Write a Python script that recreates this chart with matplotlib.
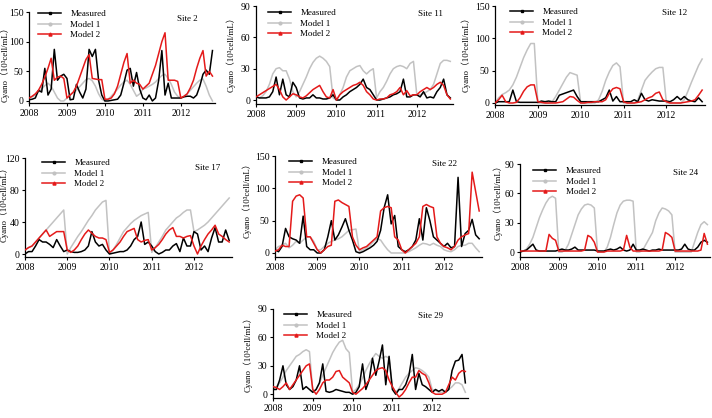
import numpy as np
import matplotlib.pyplot as plt
from matplotlib.lines import Line2D

plt.rcParams["font.family"] = ["Liberation Serif", "Noto Sans CJK SC"]

W, H = 712, 418

# monthly values, Jan 2008 .. Nov 2012 (59 months), 10^3 cell/mL
months = 2008 + np.arange(59) / 12
year_ticks = [2008, 2009, 2010, 2011, 2012]

s2_meas = [2, 3, 5, 18, 15, 55, 10, 20, 87, 35, 42, 45,
           38, 2, 3, 28, 15, 5, 20, 87, 75, 87, 35, 10,
           0, 0, 1, 2, 3, 10, 30, 52, 55, 25, 48, 20,
           5, 2, 10, 0, 5, 35, 85, 10, 30, 5, 5, 5,
           5, 7, 8, 8, 5, 10, 25, 45, 52, 45, 85]
s2_m1 = [5, 7, 10, 15, 20, 26, 30, 25, 15, 5, 0, 0,
         5, 10, 14, 18, 24, 30, 36, 38, 34, 25, 12, 3,
         0, 3, 8, 14, 20, 27, 32, 35, 28, 18, 8, 12,
         20, 22, 25, 28, 32, 38, 43, 45, 38, 28, 15, 8,
         5, 8, 12, 18, 24, 30, 35, 37, 25, 10, 0]
s2_m2 = [5, 8, 12, 18, 28, 40, 55, 72, 35, 40, 42, 38,
         5, 10, 15, 25, 40, 55, 70, 78, 38, 37, 36, 36,
         3, 3, 5, 12, 25, 45, 65, 80, 30, 35, 30, 28,
         20, 25, 30, 45, 60, 80, 100, 115, 35, 35, 35, 33,
         5, 8, 12, 22, 35, 55, 72, 85, 42, 50, 42]

s11_meas = [3, 2, 2, 2, 3, 8, 22, 5, 20, 5, 3, 17,
            12, 2, 1, 2, 2, 5, 2, 2, 1, 1, 2, 5,
            0, 0, 3, 5, 8, 10, 12, 15, 20, 12, 10, 5,
            0, 0, 1, 2, 3, 5, 6, 8, 20, 3, 3, 5,
            5, 3, 8, 2, 3, 2, 8, 12, 20, 5, 2]
s11_m1 = [3, 2, 4, 8, 15, 25, 30, 31, 28, 28, 20, 8,
          3, 8, 15, 22, 30, 36, 40, 42, 40, 37, 32, 2,
          0, 5, 12, 22, 28, 30, 32, 33, 28, 25, 28, 30,
          2, 8, 12, 18, 25, 30, 32, 33, 32, 30, 35, 37,
          5, 5, 6, 8, 10, 15, 25, 35, 38, 38, 37]
s11_m2 = [3, 5, 7, 9, 11, 13, 15, 10, 3, 0, 3, 6,
          5, 3, 2, 4, 7, 10, 12, 14, 8, 3, 2, 10,
          0, 5, 8, 10, 12, 14, 15, 17, 14, 8, 5, 1,
          0, 1, 1, 2, 5, 6, 8, 12, 5, 9, 4, 5,
          5, 8, 10, 12, 10, 12, 15, 17, 14, 5, 1]

s12_meas = [0, 2, 2, 2, 2, 20, 2, 1, 1, 1, 1, 1,
            1, 3, 2, 3, 2, 2, 12, 14, 16, 18, 20, 10,
            2, 2, 2, 2, 2, 2, 5, 8, 20, 3, 10, 2,
            2, 2, 2, 5, 2, 15, 5, 3, 5, 4, 3, 3,
            3, 2, 5, 10, 5, 10, 5, 3, 2, 8, 2]
s12_m1 = [0, 8, 13, 16, 20, 28, 40, 55, 70, 82, 92, 92,
          0, 0, 0, 0, 2, 10, 20, 30, 40, 47, 45, 43,
          0, 0, 0, 0, 0, 5, 18, 35, 48, 58, 62, 56,
          0, 0, 0, 0, 5, 20, 35, 42, 48, 53, 55, 55,
          0, 0, 0, 0, 0, 5, 18, 32, 45, 58, 68]
s12_m2 = [0, 5, 12, 2, 0, 0, 1, 8, 18, 25, 28, 28,
          2, 1, 0, 0, 0, 0, 1, 2, 6, 10, 9, 4,
          0, 0, 1, 1, 2, 2, 2, 5, 15, 22, 24, 22,
          2, 0, 0, 0, 1, 2, 5, 8, 10, 15, 17, 5,
          2, 0, 0, 0, 0, 1, 2, 3, 5, 12, 20]

s17_meas = [0, 3, 3, 10, 18, 15, 15, 12, 8, 18, 10, 3,
            5, 3, 2, 2, 3, 5, 10, 28, 15, 10, 12, 5,
            0, 1, 2, 3, 3, 5, 10, 18, 22, 40, 12, 15,
            10, 3, 0, 2, 5, 5, 10, 13, 3, 20, 10, 10,
            28, 25, 5, 10, 3, 20, 33, 15, 15, 30, 17]
s17_m1 = [5, 8, 10, 15, 20, 25, 30, 35, 40, 45, 50, 55,
          0, 8, 15, 22, 28, 35, 42, 48, 55, 60, 65, 67,
          0, 5, 12, 20, 28, 33, 38, 42, 45, 48, 50, 52,
          2, 8, 15, 22, 30, 35, 40, 45, 48, 52, 55, 55,
          28, 30, 33, 36, 40, 45, 50, 55, 60, 65, 70]
s17_m2 = [5, 8, 10, 15, 20, 25, 30, 22, 25, 28, 28, 28,
          5, 2, 5, 10, 18, 25, 30, 26, 22, 20, 20, 18,
          2, 5, 10, 15, 22, 28, 30, 32, 18, 15, 17, 18,
          5, 8, 12, 18, 25, 30, 33, 22, 22, 20, 22, 23,
          10, 0, 10, 18, 25, 30, 36, 25, 22, 18, 15]

s22_meas = [5, 2, 10, 38, 25, 22, 20, 15, 57, 10, 5, 5,
            0, 0, 5, 25, 50, 20, 28, 40, 53, 35, 20, 2,
            0, 2, 5, 8, 12, 18, 35, 70, 90, 45, 58, 10,
            5, 2, 5, 10, 20, 53, 20, 70, 50, 25, 20, 15,
            10, 15, 8, 10, 117, 10, 30, 35, 52, 28, 22]
s22_m1 = [5, 10, 12, 15, 8, 12, 18, 15, 20, 25, 25, 18,
          5, 5, 10, 15, 18, 20, 22, 25, 30, 35, 36, 37,
          2, 5, 8, 12, 18, 22, 20, 12, 5, 0, 0, 0,
          0, 0, 2, 5, 8, 12, 15, 14, 12, 15, 12, 10,
          5, 3, 2, 5, 10, 12, 12, 15, 15, 8, 2]
s22_m2 = [3, 5, 12, 10, 10, 80, 88, 90, 85, 25, 25, 15,
          5, 0, 5, 10, 12, 80, 82, 78, 75, 72, 25, 12,
          5, 8, 10, 15, 20, 25, 65, 70, 72, 70, 25, 20,
          5, 0, 5, 10, 15, 25, 72, 75, 72, 70, 25, 15,
          10, 8, 5, 10, 20, 25, 28, 30, 125, 95, 65]

s24_meas = [0, 1, 2, 5, 8, 2, 1, 1, 1, 1, 1, 1,
            2, 3, 2, 2, 3, 5, 2, 2, 2, 2, 2, 2,
            1, 1, 1, 2, 3, 2, 3, 5, 2, 1, 2, 8,
            2, 2, 3, 2, 1, 2, 2, 3, 2, 2, 2, 2,
            2, 2, 3, 8, 3, 2, 2, 5, 10, 12, 10]
s24_m1 = [0, 1, 3, 8, 15, 25, 35, 43, 50, 55, 57, 55,
          0, 0, 2, 8, 18, 28, 38, 44, 48, 49, 48, 45,
          0, 0, 0, 5, 15, 28, 40, 48, 52, 53, 53, 52,
          0, 0, 2, 8, 14, 20, 32, 40, 45, 44, 42, 38,
          0, 0, 0, 0, 0, 0, 10, 20, 28, 31, 28]
s24_m2 = [1, 1, 1, 1, 1, 1, 1, 1, 1, 18, 14, 12,
          1, 1, 1, 1, 1, 1, 1, 1, 2, 17, 15, 10,
          0, 0, 0, 1, 1, 1, 1, 1, 2, 17, 5, 1,
          1, 1, 1, 1, 1, 1, 1, 1, 2, 20, 18, 15,
          1, 1, 1, 1, 1, 1, 1, 1, 2, 19, 8]

s29_meas = [5, 5, 15, 30, 10, 5, 8, 15, 30, 5, 8, 5,
            2, 5, 12, 32, 3, 2, 3, 5, 4, 3, 2, 2,
            0, 2, 8, 32, 5, 15, 38, 20, 35, 52, 10, 40,
            5, 0, 5, 5, 10, 20, 42, 5, 22, 10, 8, 5,
            2, 5, 3, 5, 2, 5, 25, 35, 36, 42, 12]
s29_m1 = [5, 8, 12, 18, 25, 30, 35, 40, 42, 45, 47, 45,
          3, 5, 12, 20, 28, 36, 44, 50, 55, 57, 48, 44,
          2, 5, 10, 17, 25, 32, 38, 43, 40, 38, 40, 38,
          8, 2, 6, 12, 18, 22, 25, 28, 27, 25, 22, 18,
          5, 4, 2, 2, 3, 5, 8, 12, 12, 10, 2]
s29_m2 = [8, 7, 5, 8, 12, 5, 10, 15, 20, 25, 30, 32,
          5, 0, 5, 12, 15, 15, 18, 24, 25, 18, 15, 12,
          2, 0, 3, 6, 10, 15, 20, 25, 27, 28, 25, 15,
          8, 2, -3, 0, 5, 12, 18, 18, 25, 22, 20, 12,
          2, 0, 0, 0, 2, 10, 18, 15, 22, 25, 24]

# name, series, yticks, ylim, axes box px (l, t, r, b), legend px, site text px, ylabel px
panels = [
    ("Site 2", s2_meas, s2_m1, s2_m2, [0, 50, 100, 150], (-3.4, 150),
     (29, 12, 215, 103), (38, 15), (187, 19), (5, 62)),
    ("Site 11", s11_meas, s11_m1, s11_m2, [0, 30, 60, 90], (-3.8, 90),
     (256, 6, 453, 104), (268, 14), (430, 14), (231, 52)),
    ("Site 12", s12_meas, s12_m1, s12_m2, [0, 50, 100, 150], (-3.1, 150),
     (495, 6, 705, 105), (510, 13), (675, 13), (466, 52)),
    ("Site 17", s17_meas, s17_m1, s17_m2, [0, 40, 80, 120], (-3.75, 120),
     (25, 158, 232, 257), (42, 164), (208, 168), (4, 202)),
    ("Site 22", s22_meas, s22_m1, s22_m2, [0, 50, 100, 150], (-6.2, 150),
     (275, 156, 482, 257), (289, 163), (444, 164), (247, 198)),
    ("Site 24", s24_meas, s24_m1, s24_m2, [0, 30, 60, 90], (-5.1, 90),
     (520, 164, 710, 257), (533, 172), (686, 173), (498, 200)),
    ("Site 29", s29_meas, s29_m1, s29_m2, [0, 30, 60, 90], (-4, 90),
     (273, 309, 468, 398), (284, 316), (430, 316), (248, 352)),
]

colors = {"meas": "black", "m1": "#c2c2c2", "m2": "#e41a1a"}

# legend handles keep the small symbols of the original
handles = [Line2D([], [], color=colors["meas"], lw=1.1, marker="s", ms=2),
           Line2D([], [], color=colors["m1"], lw=1.1, marker="o", ms=2),
           Line2D([], [], color=colors["m2"], lw=1.1, marker="^", ms=2.2)]

fig = plt.figure(figsize=(W / 100, H / 100), dpi=100)

for name, meas, m1, m2, yt, ylim, box, leg, site, ylab in panels:
    l, t, r, b = box
    ax = fig.add_axes([l / W, 1 - b / H, (r - l) / W, (b - t) / H])
    ax.plot(months, m1, color=colors["m1"], lw=1.1, zorder=2)
    ax.plot(months, meas, color=colors["meas"], lw=1.1, zorder=3)
    ax.plot(months, m2, color=colors["m2"], lw=1.1, zorder=4)

    ax.set_xlim(2008, 2012.9)
    ax.set_ylim(*ylim)
    ax.set_xticks(year_ticks)
    ax.set_yticks(yt)
    ax.tick_params(labelsize=7, length=2.5, width=0.8, pad=1.5, direction="out")
    for s in ["top", "right"]:
        ax.spines[s].set_visible(False)
    for s in ["left", "bottom"]:
        ax.spines[s].set_linewidth(0.9)

    ax.legend(handles, ["Measured", "Model 1", "Model 2"],
              loc="upper left", bbox_to_anchor=(leg[0] / W, 1 - (leg[1] - 5) / H),
              bbox_transform=fig.transFigure, frameon=False, fontsize=6.5,
              handlelength=2.6, handletextpad=1.0, labelspacing=0.25,
              borderpad=0, borderaxespad=0)
    fig.text(site[0] / W, 1 - site[1] / H, name, fontsize=6.5,
             ha="center", va="center")
    fig.text(ylab[0] / W, 1 - ylab[1] / H, "Cyano（10³cell/mL）", fontsize=6.3,
             rotation=90, ha="center", va="center")

fig.savefig("out.png", dpi=100)
